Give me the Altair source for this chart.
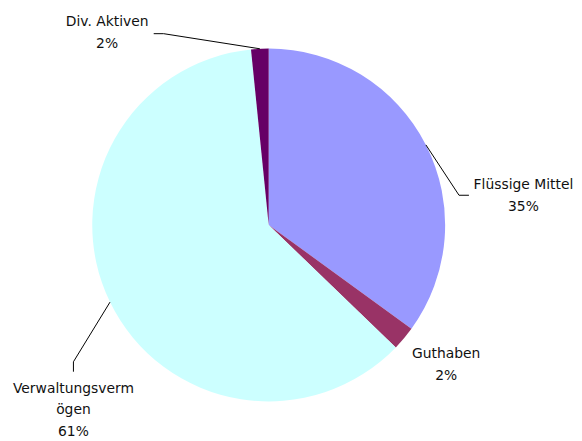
import altair as alt
import pandas as pd
import numpy as np

# ---- data ----
categories = ["Flüssige Mittel", "Guthaben", "Verwaltungsvermögen", "Div. Aktiven"]
label_names = ["Flüssige Mittel", "Guthaben", "Verwaltungsverm\nögen", "Div. Aktiven"]
values = [35.0, 2.2, 61.2, 1.6]
colors = ["#9999FF", "#993366", "#CCFFFF", "#660066"]

# ---- layout (pixels, relative to pie centre) ----
W, H = 566, 425
CX, CY, R = 263, 217, 178
label_offsets = [(257, -40), (179, 130), (-197, 165), (-163, -205)]  # first text line centre
leader_bends = [[(192, -30), (202, -30)], None, [(-197, 138), (-197, 148)], [(-106, -193), (-116, -193)]]

pie_df = pd.DataFrame({"category": categories, "value": values, "idx": range(len(values))})

total = sum(values)
cum = np.cumsum([0] + values)
mid_angles = [(cum[i] + values[i] / 2) / total * 2 * np.pi for i in range(len(values))]

text_rows = []
line_rows = []
for i, cat in enumerate(categories):
    pct = f"{round(values[i] / total * 100)}%"
    dx, dy = label_offsets[i]
    text_rows.append({"category": cat, "text": label_names[i] + "\n" + pct, "x": CX + dx, "y": CY + dy})
    if leader_bends[i]:
        a = mid_angles[i]
        pts = [(CX + R * np.sin(a), CY - R * np.cos(a))] + [(CX + bx, CY + by) for bx, by in leader_bends[i]]
        for k, (px, py) in enumerate(pts):
            line_rows.append({"category": cat, "k": k, "x": px, "y": py})

text_df = pd.DataFrame(text_rows)
line_df = pd.DataFrame(line_rows)

xs = alt.Scale(domain=[0, W])
ys = alt.Scale(domain=[H, 0])

pie = alt.Chart(pie_df).mark_arc(outerRadius=R).encode(
    theta=alt.Theta("value:Q", stack=True),
    color=alt.Color("category:N", scale=alt.Scale(domain=categories, range=colors), legend=None),
    order=alt.Order("idx:Q"),
    x=alt.value(CX),
    y=alt.value(CY),
)

lines = alt.Chart(line_df).mark_line(color="black", strokeWidth=1).encode(
    x=alt.X("x:Q", scale=xs, axis=None),
    y=alt.Y("y:Q", scale=ys, axis=None),
    detail="category:N",
    order="k:Q",
)

texts = alt.Chart(text_df).mark_text(
    font="DejaVu Sans", fontSize=14, lineHeight=22, lineBreak="\n",
    align="center", baseline="middle", color="#111111",
).encode(
    x=alt.X("x:Q", scale=xs, axis=None),
    y=alt.Y("y:Q", scale=ys, axis=None),
    text="text:N",
)

chart = alt.layer(pie, lines, texts).properties(
    width=W, height=H, padding=0
).configure_view(stroke=None)

chart.save("out.html", embed_options={"renderer": "svg", "actions": False})
